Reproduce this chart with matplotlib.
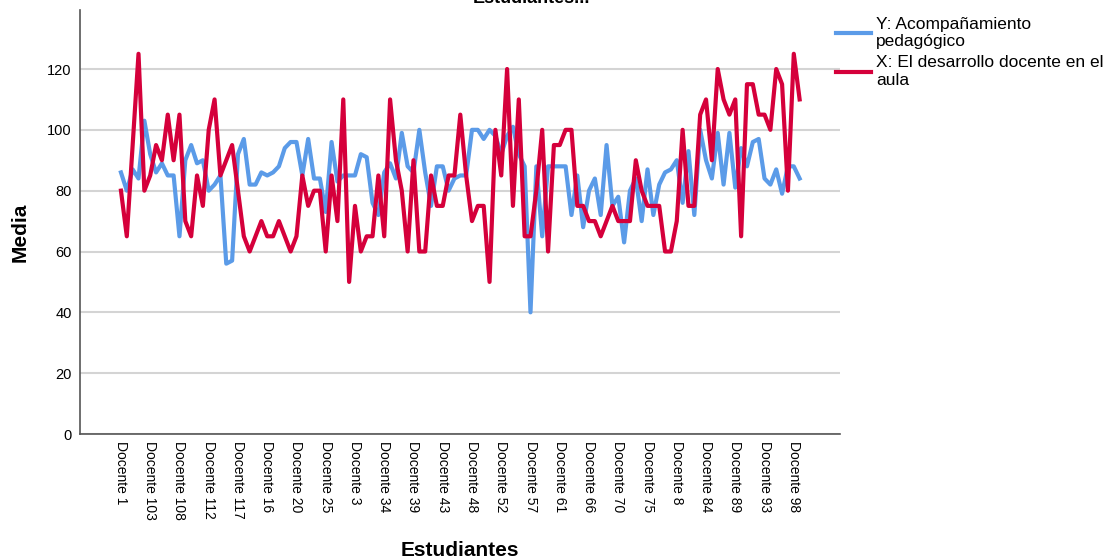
import matplotlib
matplotlib.use("Agg")
import matplotlib.pyplot as plt
import numpy as np

plt.rcParams['font.family'] = ['Liberation Sans', 'DejaVu Sans']

# categories as they come out of the string-sorted SPSS table
docentes = sorted(["Docente {}".format(n) for n in range(1, 118)])

# Y: Acompañamiento pedagógico
acompanamiento = [
    86, 80, 87, 84, 103, 92, 86, 89, 85, 85,
    65, 90, 95, 89, 90, 80, 82, 85, 56, 57,
    92, 97, 82, 82, 86, 85, 86, 88, 94, 96,
    96, 85, 97, 84, 84, 73, 96, 83, 85, 85,
    85, 92, 91, 76, 72, 86, 89, 84, 99, 88,
    86, 100, 86, 75, 88, 88, 80, 84, 85, 85,
    100, 100, 97, 100, 98, 92, 98, 101, 92, 88,
    40, 88, 65, 88, 88, 88, 88, 72, 85, 68,
    80, 84, 72, 95, 75, 78, 63, 80, 84, 70,
    87, 72, 82, 86, 87, 90, 76, 93, 72, 100,
    90, 84, 99, 82, 99, 81, 94, 88, 96, 97,
    84, 82, 87, 79, 88, 88, 84,
]

# X: El desarrollo docente en el aula
desarrollo = [
    80, 65, 95, 125, 80, 85, 95, 90, 105, 90,
    105, 70, 65, 85, 75, 100, 110, 85, 90, 95,
    80, 65, 60, 65, 70, 65, 65, 70, 65, 60,
    65, 85, 75, 80, 80, 60, 85, 70, 110, 50,
    75, 60, 65, 65, 85, 65, 110, 90, 80, 60,
    90, 60, 60, 85, 75, 75, 85, 85, 105, 85,
    70, 75, 75, 50, 100, 85, 120, 75, 110, 65,
    65, 80, 100, 60, 95, 95, 100, 100, 75, 75,
    70, 70, 65, 70, 75, 70, 70, 70, 90, 80,
    75, 75, 75, 60, 60, 70, 100, 75, 75, 105,
    110, 90, 120, 110, 105, 110, 65, 115, 115, 105,
    105, 100, 120, 115, 80, 125, 110,
]

fig = plt.figure(figsize=(11.07, 5.6), dpi=100)
ax = fig.add_axes([80 / 1107, 126 / 560, 760 / 1107, 424 / 560])

x = np.arange(len(docentes))
ax.plot(x, acompanamiento, color='#5b9be8', lw=3.0, label='Y: Acompañamiento\npedagógico')
ax.plot(x, desarrollo, color='#d5003b', lw=3.0, label='X: El desarrollo docente en el\naula')

ax.set_xlim(-7.0, 122.9)
ax.set_ylim(0, 139.4)
ax.set_yticks([0, 20, 40, 60, 80, 100, 120])
ax.yaxis.grid(True, color='#d4d4d4', lw=1.5)
ax.set_axisbelow(True)

ticks = x[::5]
ax.set_xticks(ticks)
ax.set_xticklabels([docentes[i] for i in ticks], rotation=270, ha='center', va='top')
ax.tick_params(axis='x', length=0, pad=5, labelsize=10)
ax.tick_params(axis='y', length=0, pad=6, labelsize=10.5)

for side in ['top', 'right']:
    ax.spines[side].set_visible(False)
for side in ['left', 'bottom']:
    ax.spines[side].set_color('#555555')
    ax.spines[side].set_linewidth(1.2)

fig.text(20 / 1107, 1 - 232 / 560, 'Media', rotation=90, ha='center', va='center',
         fontsize=15, fontweight='bold')
fig.text(460 / 1107, 1 - 550 / 560, 'Estudiantes', ha='center', va='center',
         fontsize=15, fontweight='bold')
# chart title sits mostly above the canvas edge
fig.text(531 / 1107, 1 - 3 / 560, 'Estudiantes...', ha='center', va='baseline',
         fontsize=13, fontweight='bold')

fig.legend(loc='upper left', bbox_to_anchor=(836 / 1107, 1 - 17 / 560), frameon=False,
           fontsize=12.5, handlelength=2.0, handletextpad=0.3, labelspacing=0.35,
           borderaxespad=0, borderpad=0)

fig.savefig('out.png', dpi=100)
